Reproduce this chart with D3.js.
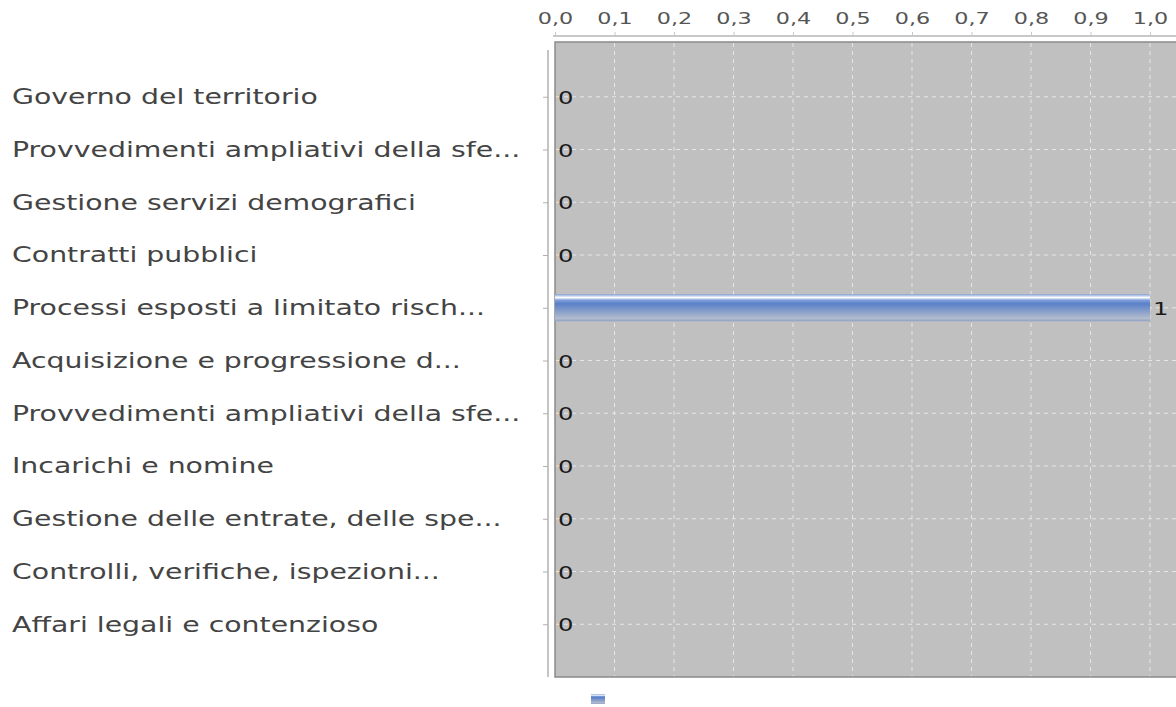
<!DOCTYPE html>
<html>
<head>
<meta charset="utf-8">
<script src="https://cdn.jsdelivr.net/npm/d3@7"></script>
<style>
  body { margin: 0; background: #fff; }
  svg { display: block; font-family: "DejaVu Sans", sans-serif; }
</style>
</head>
<body>
<div id="chart"></div>
<script>
// categories and values (one series, no name in the legend)
const categories = [
  "Governo del territorio",
  "Provvedimenti ampliativi della sfe...",
  "Gestione servizi demografici",
  "Contratti pubblici",
  "Processi esposti a limitato risch...",
  "Acquisizione e progressione d...",
  "Provvedimenti ampliativi della sfe...",
  "Incarichi e nomine",
  "Gestione delle entrate, delle spe...",
  "Controlli, verifiche, ispezioni...",
  "Affari legali e contenzioso"
];
const values = [0, 0, 0, 0, 1, 0, 0, 0, 0, 0, 0];
const xTicks = [0, 0.1, 0.2, 0.3, 0.4, 0.5, 0.6, 0.7, 0.8, 0.9, 1.0];

const width = 1176, height = 707;
const plot = {left: 555, right: 1150, top: 42, bottom: 677};
// the source rendering is stretched horizontally, text included
const stretch = "scale(1.35,1)";

const svg = d3.select("#chart").append("svg")
  .attr("width", width)
  .attr("height", height);

const defs = svg.append("defs");
const grad = defs.append("linearGradient")
  .attr("id", "barGrad").attr("x1", 0).attr("y1", 0).attr("x2", 0).attr("y2", 1);
grad.append("stop").attr("offset", "0%").attr("stop-color", "#7f9fd8");
grad.append("stop").attr("offset", "12%").attr("stop-color", "#ffffff");
grad.append("stop").attr("offset", "22%").attr("stop-color", "#7f9fdb");
grad.append("stop").attr("offset", "35%").attr("stop-color", "#5a80c8");
grad.append("stop").attr("offset", "90%").attr("stop-color", "#b3bccd");
grad.append("stop").attr("offset", "100%").attr("stop-color", "#8c9fc8");

const x = d3.scaleLinear().domain([0, 1]).range([plot.left, plot.right]);
const y = d3.scalePoint().domain(d3.range(categories.length))
  .range([plot.top + 2, plot.bottom]).padding(1);
const barH = 27;

// plot background
svg.append("rect")
  .attr("x", plot.left).attr("y", plot.top)
  .attr("width", width - plot.left + 5).attr("height", plot.bottom - plot.top)
  .attr("fill", "#c0c0c0")
  .attr("stroke", "#8a8a8a").attr("stroke-width", 1.5);

// grid
svg.append("g").selectAll("line")
  .data(xTicks.slice(1))
  .enter().append("line")
  .attr("x1", d => x(d)).attr("x2", d => x(d))
  .attr("y1", plot.top + 1).attr("y2", plot.bottom - 1)
  .attr("stroke", "#e6e6e6").attr("stroke-dasharray", "4,4");

svg.append("g").selectAll("line")
  .data(d3.range(categories.length))
  .enter().append("line")
  .attr("x1", plot.left + 1).attr("x2", width)
  .attr("y1", d => y(d)).attr("y2", d => y(d))
  .attr("stroke", "#e6e6e6").attr("stroke-dasharray", "4,4");

// top axis
const xAxis = svg.append("g")
  .attr("transform", "translate(0,36)")
  .call(d3.axisTop(x).tickValues(xTicks).tickSize(4).tickPadding(8)
    .tickFormat(d => d3.format(".1f")(d).replace(".", ",")));
xAxis.select(".domain").attr("stroke", "#c8c8c8").attr("stroke-width", 2)
  .attr("d", "M" + (plot.left - 2) + ",0H" + width);
xAxis.selectAll(".tick line").attr("stroke", "#c8c8c8");
xAxis.selectAll(".tick text")
  .attr("fill", "#555").attr("font-size", 16.5)
  .attr("font-family", "DejaVu Sans, sans-serif")
  .attr("transform", stretch);

// left axis
const yAxis = svg.append("g")
  .attr("transform", "translate(548,0)")
  .call(d3.axisLeft(y).tickSize(5).tickFormat(""));
yAxis.select(".domain").attr("stroke", "#b0b0b0").attr("stroke-width", 1.5)
  .attr("d", "M0," + (plot.top + 8) + "V" + plot.bottom);
yAxis.selectAll(".tick line").attr("stroke", "#b0b0b0");

// category labels
svg.append("g").selectAll("text")
  .data(categories)
  .enter().append("text")
  .attr("transform", (d, i) => "translate(12," + y(i) + ") " + stretch)
  .attr("dy", "0.35em")
  .attr("fill", "#444")
  .attr("font-size", 21)
  .text(d => d);

// bars
svg.append("g").selectAll("rect")
  .data(values)
  .enter().append("rect")
  .attr("x", x(0))
  .attr("y", (d, i) => y(i) - barH / 2)
  .attr("width", d => x(d) - x(0))
  .attr("height", barH)
  .attr("fill", "url(#barGrad)");

// value labels
svg.append("g").selectAll("text")
  .data(values)
  .enter().append("text")
  .attr("transform", (d, i) => "translate(" + (x(d) + 3) + "," + y(i) + ") " + stretch)
  .attr("dy", "0.4em")
  .attr("fill", "#1a1a1a")
  .attr("font-size", 18)
  .text(d => d);

// legend swatch (series has no label)
svg.append("rect")
  .attr("x", 591).attr("y", 694)
  .attr("width", 14).attr("height", 10)
  .attr("fill", "url(#barGrad)");
</script>
</body>
</html>
